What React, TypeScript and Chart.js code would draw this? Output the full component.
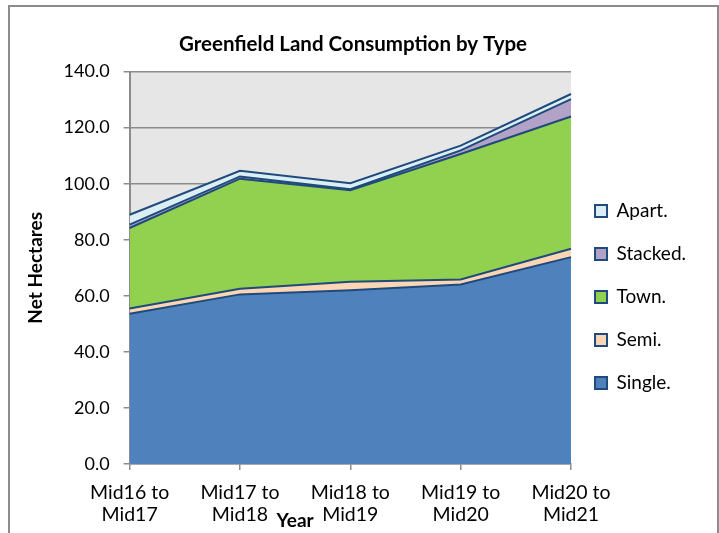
import React, { useEffect, useRef } from 'react';
import { Chart, registerables } from 'chart.js';

Chart.register(...registerables);

const categories: string[][] = [
  ['Mid16 to', 'Mid17'],
  ['Mid17 to', 'Mid18'],
  ['Mid18 to', 'Mid19'],
  ['Mid19 to', 'Mid20'],
  ['Mid20 to', 'Mid21'],
];
const single = [53.6, 60.5, 62.0, 64.0, 73.8];
const semi = [1.9, 2.0, 3.0, 1.8, 3.0];
const town = [28.7, 39.3, 32.7, 44.8, 47.2];
const stacked = [1.2, 0.8, 0.3, 1.3, 6.2];
const apart = [3.5, 2.0, 2.2, 1.7, 1.8];

const yMin = 0;
const yMax = 140;
const yStep = 20;
const xTitle = 'Year';

const FONT = 'Lato, "Open Sans", sans-serif';
const LINE = '#1f4a7c';

const bgPlugin = {
  id: 'plotBg',
  beforeDraw(chart: any) {
    const { ctx, chartArea } = chart;
    if (!chartArea) return;
    ctx.save();
    ctx.fillStyle = '#e6e6e6';
    ctx.fillRect(chartArea.left, chartArea.top, chartArea.right - chartArea.left, chartArea.bottom - chartArea.top);
    ctx.restore();
  },
};

const xTitlePlugin = {
  id: 'xTitle',
  afterDraw(chart: any) {
    const { ctx } = chart;
    const xs = chart.scales.x;
    if (!xs) return;
    ctx.save();
    ctx.font = `bold 19px ${FONT}`;
    ctx.fillStyle = '#000';
    ctx.textAlign = 'center';
    ctx.textBaseline = 'middle';
    ctx.fillText(xTitle, xs.getPixelForValue(1.5), xs.top + 57);
    ctx.restore();
  },
};

export default function App() {
  const ref = useRef<HTMLCanvasElement | null>(null);
  useEffect(() => {
    if (!ref.current) return;
    const mk = (label: string, data: number[], bg: string, fill: any) => ({
      label,
      data,
      backgroundColor: bg,
      borderColor: LINE,
      borderWidth: 2,
      pointRadius: 0,
      tension: 0,
      fill,
    });
    const chart = new Chart(ref.current, {
      type: 'line',
      data: {
        labels: categories,
        datasets: [
          mk('Single.', single, '#4f81bd', 'origin'),
          mk('Semi.', semi, '#fcd5b5', '-1'),
          mk('Town.', town, '#92d050', '-1'),
          mk('Stacked.', stacked, '#b3a2c7', '-1'),
          mk('Apart.', apart, '#dbeef4', '-1'),
        ],
      },
      options: {
        responsive: false,
        animation: false,
        devicePixelRatio: 1,
        layout: { padding: { left: 10, right: 23, top: 20, bottom: -5 } },
        plugins: {
          title: {
            display: true,
            text: 'Greenfield Land Consumption by Type',
            color: '#000',
            font: { family: FONT, size: 20.5, weight: 'bold' },
            padding: { top: 12.5, bottom: 14.5 },
          },
          legend: {
            position: 'right',
            reverse: true,
            title: {
              display: true,
              text: ' ',
              font: { family: FONT, size: 10 },
              padding: { top: 24, bottom: 0 },
            },
            labels: {
              color: '#000',
              font: { family: FONT, size: 19 },
              boxWidth: 12,
              boxHeight: 12,
              padding: 24,
            },
          },
          tooltip: { enabled: false },
        },
        scales: {
          x: {
            offset: false,
            grid: {
              drawOnChartArea: false,
              drawTicks: true,
              tickLength: 6,
              color: '#8c8c8c',
              lineWidth: 1.5,
            },
            border: { display: true, color: '#8c8c8c', width: 1.5 },
            ticks: {
              color: '#000',
              font: { family: FONT, size: 19.5, lineHeight: 1.13 },
              padding: 12,
              maxRotation: 0,
              autoSkip: false,
            },
          },
          y: {
            stacked: true,
            min: yMin,
            max: yMax,
            grid: {
              color: '#8c8c8c',
              lineWidth: 1.5,
              drawTicks: true,
              tickLength: 6,
            },
            border: { display: true, color: '#8c8c8c', width: 2 },
            ticks: {
              stepSize: yStep,
              color: '#000',
              font: { family: FONT, size: 18 },
              padding: 14,
              callback: (v: any) => Number(v).toFixed(1),
            },
            title: {
              display: true,
              text: 'Net Hectares',
              color: '#000',
              font: { family: FONT, size: 19, weight: 'bold' },
              padding: { top: 14, bottom: 2.8 },
            },
          },
        },
      },
      plugins: [bgPlugin, xTitlePlugin],
    });
    return () => chart.destroy();
  }, []);

  return (
    <div style={{ position: 'absolute', left: 0, top: 0, width: 719, height: 533, background: '#fff' }}>
      <canvas ref={ref} width={719} height={533} style={{ position: 'absolute', left: 0, top: 0 }} />
      <div
        style={{
          position: 'absolute',
          left: 8,
          top: 5,
          width: 711,
          height: 540,
          border: '2px solid #8c8c8c',
          boxSizing: 'border-box',
          pointerEvents: 'none',
        }}
      />
    </div>
  );
}
